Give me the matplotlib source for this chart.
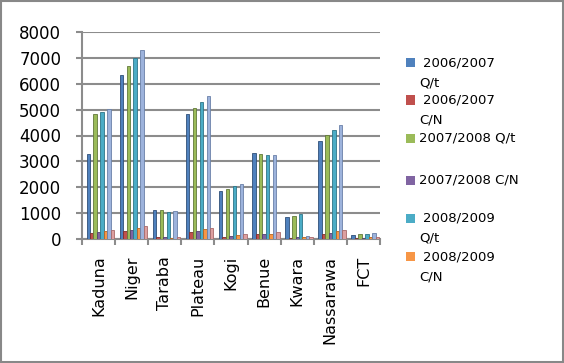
import matplotlib
matplotlib.use("Agg")
import matplotlib.pyplot as plt
import numpy as np
from matplotlib.patches import Rectangle
from matplotlib.lines import Line2D

states = ['Kaduna', 'Niger', 'Taraba', 'Plateau', 'Kogi', 'Benue', 'Kwara', 'Nassarawa', 'FCT']

series_names = ['2006/2007 Q/t', '2006/2007 C/N', '2007/2008 Q/t', '2007/2008 C/N',
                '2008/2009 Q/t', '2008/2009 C/N', '2009/2010 Q/t', '2009/2010 C/N']

q_0607 = [3270, 6350, 1110, 4850, 1840, 3310, 850, 3790, 140]
cn_0607 = [240, 290, 80, 260, 80, 180, 50, 195, 40]
q_0708 = [4820, 6670, 1130, 5060, 1930, 3270, 900, 4010, 180]
cn_0708 = [270, 355, 80, 300, 115, 180, 65, 220, 40]
q_0809 = [4900, 7000, 1060, 5310, 2050, 3260, 970, 4210, 180]
cn_0809 = [310, 440, 50, 375, 155, 205, 65, 300, 65]
q_0910 = [5040, 7320, 1100, 5530, 2140, 3240, 115, 4420, 220]
cn_0910 = [355, 520, 80, 440, 180, 270, 90, 350, 60]

values = [q_0607, cn_0607, q_0708, cn_0708, q_0809, cn_0809, q_0910, cn_0910]
colors = ['#4F81BD', '#C0504D', '#9BBB59', '#8064A2', '#4BACC6', '#F79646', '#9DB3DC', '#DDA0A0']
edges = ['#2F4F78', '#7F2F2D', '#62793A', '#54406E', '#2E7588', '#B56520', '#6A80A8', '#A86A6A']

W, H = 564, 363
fig = plt.figure(figsize=(W / 100, H / 100), dpi=100)
ax = fig.add_axes([82 / W, 1 - 239 / H, (380 - 82) / W, (239 - 32) / H])

x = np.arange(len(states))
bw = 0.104
for j, vals in enumerate(values):
    ax.bar(x + 0.055 + (j - 3.5) * bw, vals, width=bw, color=colors[j],
           edgecolor=edges[j], linewidth=0.6, zorder=3)

ax.set_xlim(-0.5, len(states) - 0.5)
ax.set_ylim(0, 8000)
ax.set_yticks(np.arange(0, 8001, 1000))
ax.yaxis.grid(True, color='#8c8c8c', linewidth=1.5, zorder=0)
ax.set_axisbelow(True)

ax.set_xticks(np.arange(-0.5, len(states)), minor=False)
ax.set_xticklabels([])
ax.set_xticks(x, minor=True)
ax.set_xticklabels(states, minor=True, rotation=90, fontsize=11.5)
ax.tick_params(axis='x', which='minor', length=0, pad=12)
ax.tick_params(axis='x', which='major', length=4, width=1.5, color='#8c8c8c')
ax.tick_params(axis='y', length=4, width=1.5, color='#8c8c8c', pad=11, labelsize=12)

for s in ['top', 'right']:
    ax.spines[s].set_visible(False)
for s in ['left', 'bottom']:
    ax.spines[s].set_color('#8c8c8c')
    ax.spines[s].set_linewidth(1.5)

# legend (only first six series shown, as in the original)
leg_y = [62.7, 100, 138.3, 180, 218.3, 256.7]
for j in range(6):
    yc = leg_y[j]
    fig.patches.append(Rectangle((406 / W, 1 - (yc + 4.5) / H), 9 / W, 9 / H,
                                 transform=fig.transFigure, facecolor=colors[j],
                                 edgecolor='none'))
    name = series_names[j]
    if j in (2, 3):
        fig.text(419 / W, 1 - yc / H, name, fontsize=9.5, va='center', ha='left')
    else:
        first, second = name.split(' ')
        fig.text(423 / W, 1 - yc / H, first, fontsize=9.5, va='center', ha='left')
        fig.text(419 / W, 1 - (yc + 20) / H, second, fontsize=9.5, va='center', ha='left')

# chart border
fig.lines.append(Line2D([1 / W, 1 / W], [0, 1], transform=fig.transFigure, color='#888888', lw=1.5))
fig.lines.append(Line2D([0, 1], [1 - 1 / H, 1 - 1 / H], transform=fig.transFigure, color='#888888', lw=1.5))
fig.lines.append(Line2D([1 - 1.5 / W, 1 - 1.5 / W], [0, 1], transform=fig.transFigure, color='#888888', lw=2.2))
fig.lines.append(Line2D([0, 1], [1.5 / H, 1.5 / H], transform=fig.transFigure, color='#888888', lw=2.2))

fig.savefig('out.png', dpi=100)
